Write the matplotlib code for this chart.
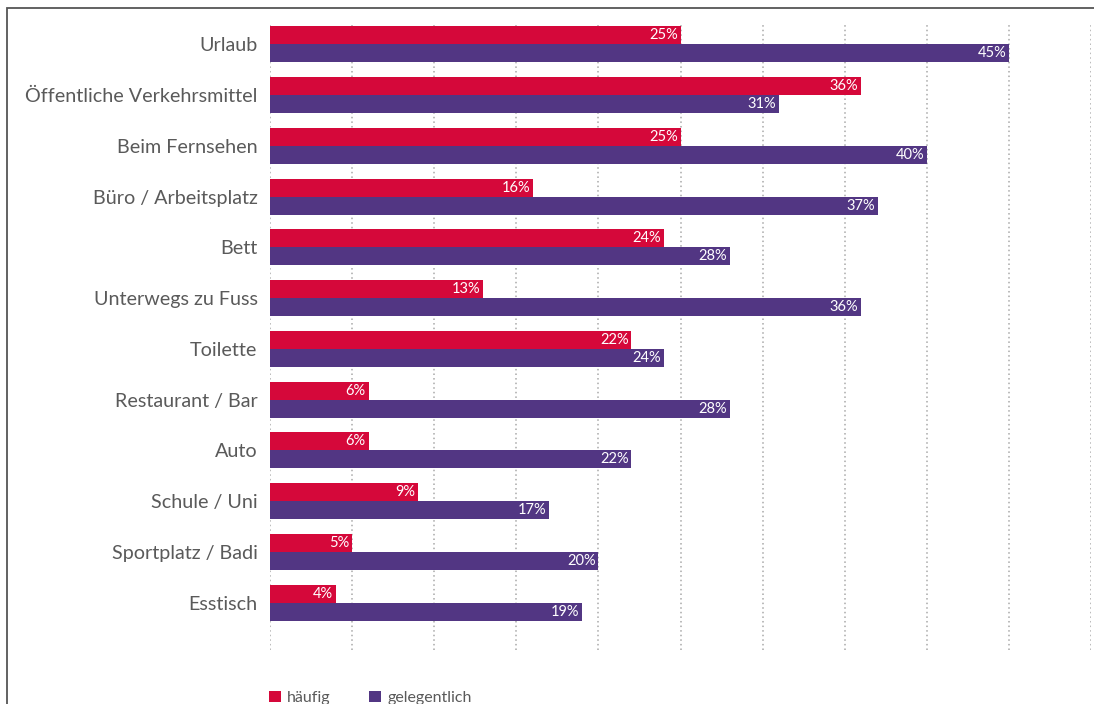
import numpy as np
import matplotlib
matplotlib.use('Agg')
import matplotlib.pyplot as plt
from matplotlib.patches import Rectangle

plt.rcParams['font.family'] = ['Lato', 'DejaVu Sans']

categories = ['Urlaub', 'Öffentliche Verkehrsmittel', 'Beim Fernsehen', 'Büro / Arbeitsplatz',
              'Bett', 'Unterwegs zu Fuss', 'Toilette', 'Restaurant / Bar', 'Auto',
              'Schule / Uni', 'Sportplatz / Badi', 'Esstisch']
haeufig = [25, 36, 25, 16, 24, 13, 22, 6, 6, 9, 5, 4]
gelegentlich = [45, 31, 40, 37, 28, 36, 24, 28, 22, 17, 20, 19]
series_names = ['häufig', 'gelegentlich']

red = '#d5083a'
purple = '#523683'
grey_text = '#5a5a5a'

W, H = 1094, 704
fig = plt.figure(figsize=(W / 100, H / 100), dpi=100)
ax = fig.add_axes([270 / W, (H - 650) / H, 821 / W, 625 / H])

# frame around the figure (only top/left visible in the reference)
fig.patches.append(Rectangle((7 / W, -0.1), 1.2, 1 - 8 / H + 0.1, transform=fig.transFigure,
                             fill=False, edgecolor='#555555', linewidth=1.3))

y = np.arange(len(categories))
h = 0.355
b1 = ax.barh(y - h / 2, haeufig, height=h, color=red, label=series_names[0], zorder=2)
b2 = ax.barh(y + h / 2, gelegentlich, height=h, color=purple, label=series_names[1], zorder=2)

for bars, vals in ((b1, haeufig), (b2, gelegentlich)):
    for rect, v in zip(bars, vals):
        ax.annotate(f'{v}%', (v, rect.get_y() + rect.get_height() / 2),
                    xytext=(-2, 0), textcoords='offset points',
                    ha='right', va='center', color='white', fontsize=10.5, zorder=3)

ax.set_xlim(0, 50)
ax.set_ylim(11.93, -0.38)
ax.set_xticks(np.arange(0, 51, 5))
ax.xaxis.grid(True, linestyle=(0, (1, 2)), color='#a8a8a8', linewidth=1.1, zorder=0)
ax.tick_params(axis='x', bottom=False, labelbottom=False)
ax.set_yticks(y)
ax.set_yticklabels(categories, fontsize=14.2, color=grey_text)
ax.tick_params(axis='y', left=False, pad=5.5)
for s in ax.spines.values():
    s.set_visible(False)

fig.legend(handles=[b1, b2], loc='center left', bbox_to_anchor=(269 / W, 6 / H),
           ncol=2, frameon=False, fontsize=11.5, labelcolor=grey_text,
           handlelength=0.75, handleheight=0.75, handletextpad=0.4, columnspacing=2.4,
           borderaxespad=0, borderpad=0)

fig.savefig('out.png', dpi=100)
